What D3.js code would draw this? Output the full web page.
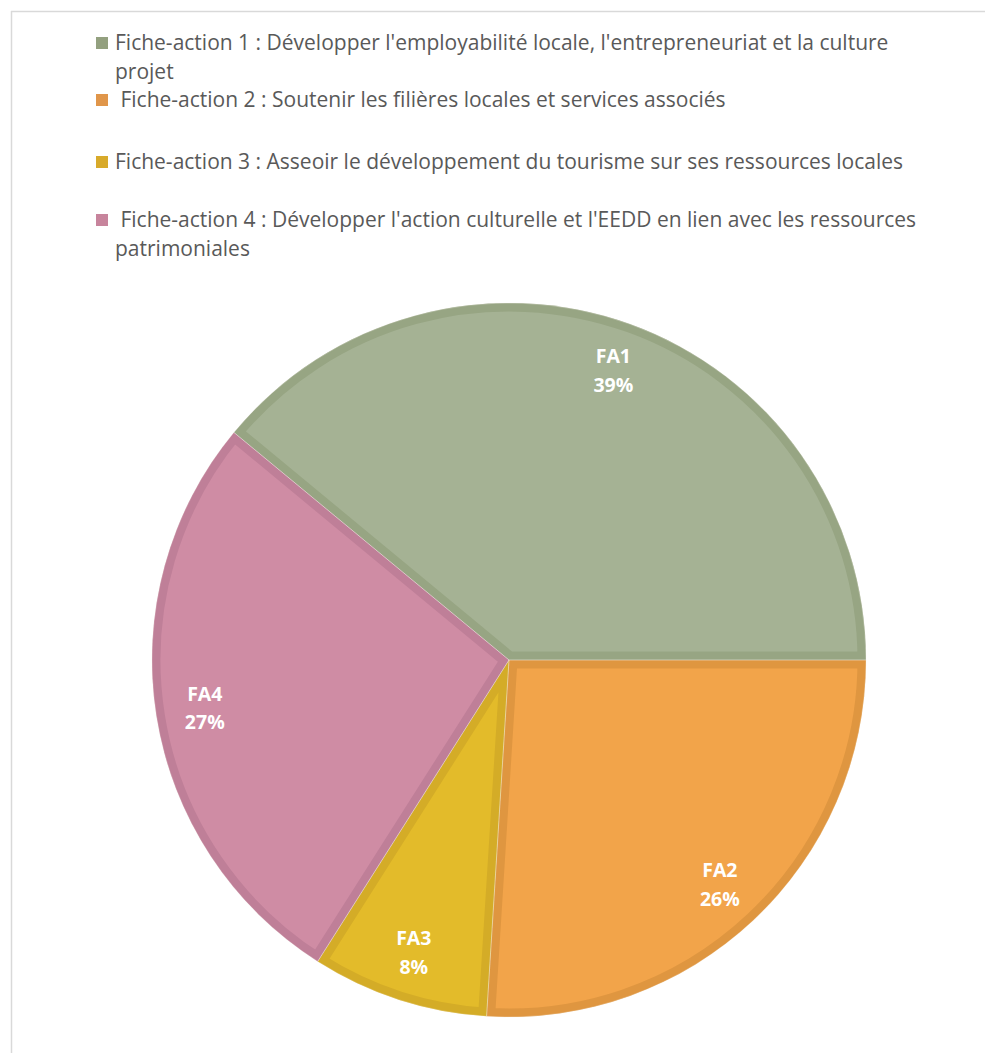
<!DOCTYPE html>
<html>
<head>
<meta charset="utf-8">
<script src="https://cdn.jsdelivr.net/npm/d3@7"></script>
<style>
  body { margin: 0; background: #fff; }
  svg { display: block; }
</style>
</head>
<body>
<div id="chart"></div>
<script>
// Data.
var codes = ['FA1', 'FA2', 'FA3', 'FA4'];
var shares = [39, 26, 8, 27];
var legendLines = [
  ["Fiche-action 1 : Développer l'employabilité locale, l'entrepreneuriat et la culture", "projet"],
  [" Fiche-action 2 : Soutenir les filières locales et services associés"],
  ["Fiche-action 3 : Asseoir le développement du tourisme sur ses ressources locales"],
  [" Fiche-action 4 : Développer l'action culturelle et l'EEDD en lien avec les ressources", "patrimoniales"]
];
var fills = ['#a5b294', '#f2a44a', '#e3bb2a', '#cf8ca4'];
var edges = ['#97a583', '#df9640', '#d4ac27', '#bf7f98'];
var swatches = ['#93a07f', '#e0964a', '#d8aa2a', '#c7849c'];

var width = 985, height = 1053;
var font = 'Open Sans, sans-serif';

var layout = {
  cx: 509, cy: 660, r: 357,
  labelR: 308,
  legendX: 96, textX: 115,
  legendY: [43, 100, 162, 220],
  lineGap: 28.5,
  fontSize: 21
};

function translate(x, y) {
  return 'translate(' + x + ', ' + y + ')';
}

var svg = d3.select('#chart').append('svg')
  .attr('width', width)
  .attr('height', height);

// Frame lines (top and left only are visible).
svg.append('line')
  .attr('x1', 11).attr('x2', width).attr('y1', 11.5).attr('y2', 11.5)
  .attr('stroke', '#d9d9d9').attr('stroke-width', 1.5);
svg.append('line')
  .attr('x1', 11.5).attr('x2', 11.5).attr('y1', 11).attr('y2', height)
  .attr('stroke', '#d9d9d9').attr('stroke-width', 1.5);

/**
 * Legend.
 **/
var legend = svg.selectAll('.legend').data(codes).enter()
  .append('g')
  .classed('legend', true)
  .attr('transform', function(d, i) { return translate(0, layout.legendY[i]); });

legend.append('rect')
  .attr('x', layout.legendX)
  .attr('y', -6)
  .attr('width', 12)
  .attr('height', 12)
  .attr('fill', function(d, i) { return swatches[i]; });

legend.each(function(d, i) {
  var g = d3.select(this);
  legendLines[i].forEach(function(line, k) {
    g.append('text')
      .attr('x', layout.textX)
      .attr('y', k * layout.lineGap)
      .attr('dy', '0.35em')
      .attr('xml:space', 'preserve')
      .style('white-space', 'pre')
      .style('font-family', font)
      .style('font-size', layout.fontSize + 'px')
      .attr('fill', '#595959')
      .text(line);
  });
});

/**
 * Pie.
 **/
var total = d3.sum(shares);
// FA2 starts at 3 o'clock, so FA1 ends there.
var start = Math.PI / 2 - shares[0] / total * 2 * Math.PI;

var pie = d3.pie()
  .sort(null)
  .startAngle(start)
  .endAngle(start + 2 * Math.PI);

var arc = d3.arc().innerRadius(0).outerRadius(layout.r);
var arcs = pie(shares);

var plot = svg.append('g')
  .attr('transform', translate(layout.cx, layout.cy));

var defs = svg.append('defs');
arcs.forEach(function(a, i) {
  defs.append('clipPath')
    .attr('id', 'clip' + i)
    .append('path')
    .attr('d', arc(a));
});

plot.selectAll('.slice').data(arcs).enter()
  .append('path')
  .classed('slice', true)
  .attr('d', arc)
  .attr('clip-path', function(d, i) { return 'url(#clip' + i + ')'; })
  .attr('fill', function(d, i) { return fills[i]; })
  .attr('stroke', function(d, i) { return edges[i]; })
  .attr('stroke-width', 17)
  .attr('stroke-linejoin', 'miter');

// Thin light seams between slices.
plot.selectAll('.seam').data(arcs).enter()
  .append('path')
  .classed('seam', true)
  .attr('d', arc)
  .attr('fill', 'none')
  .attr('stroke', '#f3eee6')
  .attr('stroke-width', 0.6)
  .attr('stroke-opacity', 0.5);

var labelArc = d3.arc().innerRadius(layout.labelR).outerRadius(layout.labelR);

var labels = plot.selectAll('.label').data(arcs).enter()
  .append('text')
  .classed('label', true)
  .attr('transform', function(d) {
    var c = labelArc.centroid(d);
    return translate(c[0], c[1]);
  })
  .attr('text-anchor', 'middle')
  .attr('fill', '#fff')
  .style('font-family', font)
  .style('font-weight', 'bold')
  .style('font-size', '19.5px');

labels.append('tspan')
  .attr('x', 0)
  .attr('y', -14.5)
  .attr('dy', '0.35em')
  .text(function(d, i) { return codes[i]; });

labels.append('tspan')
  .attr('x', 0)
  .attr('y', 14.5)
  .attr('dy', '0.35em')
  .text(function(d) { return d.data + '%'; });
</script>
</body>
</html>
